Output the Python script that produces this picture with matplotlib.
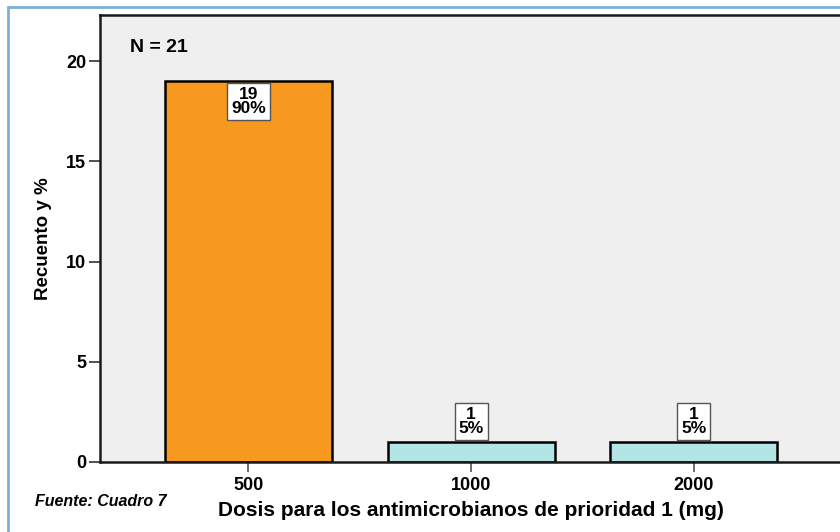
import matplotlib.pyplot as plt
from matplotlib.patches import Rectangle

plt.rcParams['font.family'] = ['Liberation Sans', 'DejaVu Sans']

# datos
dosis = ['500', '1000', '2000']
recuento = [19, 1, 1]
porcentaje = ['90%', '5%', '5%']
colores = ['#F7991E', '#B3E5E5', '#B3E5E5']
n_total = 21

fig = plt.figure(figsize=(8.4, 5.32), dpi=100)
fig.patch.set_facecolor('white')
ax = fig.add_axes([100/840, 1 - 462/532, 1 - 100/840 + 0.002, (462 - 15)/532])
ax.set_facecolor('#EFEFEF')

x = range(len(dosis))
ax.bar(x, recuento, width=0.75, color=colores, edgecolor='black', linewidth=1.8, zorder=2)

# etiquetas de los valores
caja = dict(boxstyle='square,pad=0.22', fc='white', ec='#555555', lw=1)
for i, (v, p) in enumerate(zip(recuento, porcentaje)):
    if v > 5:
        ax.annotate(f'{v}\n{p}', (i, v), xytext=(0, -4), textcoords='offset points',
                    ha='center', va='top', fontsize=12.5, fontweight='bold', linespacing=0.95,
                    bbox=caja, zorder=3)
    else:
        ax.annotate(f'{v}\n{p}', (i, v), xytext=(0, 4), textcoords='offset points',
                    ha='center', va='bottom', fontsize=12.5, fontweight='bold', linespacing=0.95,
                    bbox=caja, zorder=3)

ax.set_xlim(-0.667, 2.665)
ax.set_ylim(0, 22.3)
ax.set_yticks([0, 5, 10, 15, 20])
ax.set_xticks(list(x))
ax.set_xticklabels(dosis)
ax.tick_params(axis='y', labelsize=13, width=1.2, length=8, color='#333333', pad=2)
ax.tick_params(axis='x', labelsize=13, width=1.2, length=7, color='#555555', pad=4)
for lab in ax.get_xticklabels() + ax.get_yticklabels():
    lab.set_fontweight('bold')

for s in ['left', 'top', 'bottom']:
    ax.spines[s].set_linewidth(1.8)
    ax.spines[s].set_color('#1a1a1a')
ax.spines['right'].set_visible(False)

ax.text(30/740, (462 - 48)/447, f'N = {n_total}', transform=ax.transAxes, fontsize=14,
        fontweight='bold', ha='left', va='center')

ax.set_ylabel('Recuento y %', fontsize=13.5, fontweight='bold')
ax.yaxis.set_label_coords(-0.065, 0.5)
ax.set_xlabel('Dosis para los antimicrobianos de prioridad 1 (mg)', fontsize=15,
              fontweight='bold')
ax.xaxis.set_label_coords(0.5, -0.087)

fig.text(35/840, 1 - 502/532, 'Fuente: Cuadro 7', fontsize=11.5, fontweight='bold',
         fontstyle='italic', ha='left', va='center')

# marco azul de la captura
fig.patches.append(Rectangle((8/840, -0.1), 1.2, 1 - 7/532 + 0.1, transform=fig.transFigure,
                             fill=False, edgecolor='#7FAEDB', linewidth=2))

fig.savefig('out.png', dpi=100)
